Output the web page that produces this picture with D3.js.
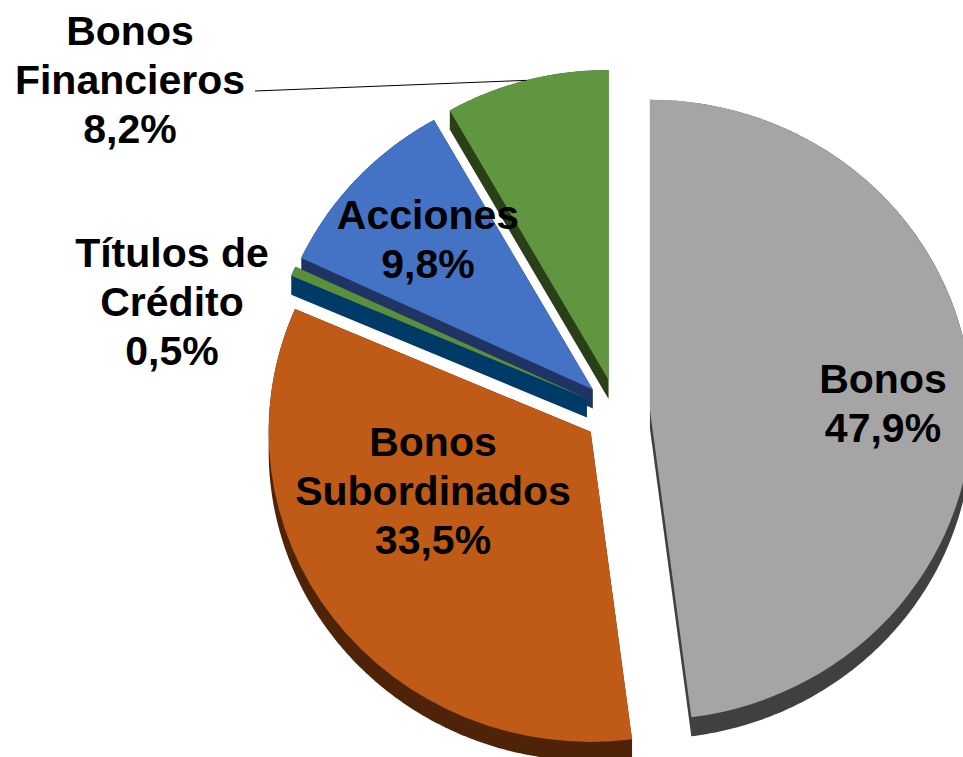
<!DOCTYPE html>
<html>
<head>
<meta charset="utf-8">
<script src="https://cdn.jsdelivr.net/npm/d3@7"></script>
<style>
  body { margin: 0; background: #fff; }
  text { font-family: "Liberation Sans", Arial, sans-serif; font-weight: bold; font-size: 41px; fill: #000; }
</style>
</head>
<body>
<div id="chart"></div>
<script>
// data
const categories = ['Bonos', 'Bonos Subordinados', 'Títulos de Crédito', 'Acciones', 'Bonos Financieros'];
const shares = [47.9, 33.5, 0.5, 9.8, 8.2];
const labelLines = [
    ['Bonos', '47,9%'],
    ['Bonos', 'Subordinados', '33,5%'],
    ['Títulos de', 'Crédito', '0,5%'],
    ['Acciones', '9,8%'],
    ['Bonos', 'Financieros', '8,2%']
];

// styles
const topColors = ['#a5a5a5', '#bf5b17', '#5b8f3b', '#4472c4', '#609640'];
const sideColors = ['#404040', '#4e2307', '#003a66', '#1f3462', '#283f18'];

// dimensions
const dim = { width: 963, height: 757 };
const pieGeo = { cx: 617, cy: 412, rx: 322, ry: 310, depth: 19, explode: 33 };

// label anchors (center x, first baseline y)
const labelPos = [
    { x: 883, y: 393 },
    { x: 433, y: 456 },
    { x: 172, y: 267 },
    { x: 428, y: 229 },
    { x: 130, y: 45 }
];
const lineGap = 49;

const svg = d3.select('#chart')
    .append('svg')
    .attr('width', dim.width)
    .attr('height', dim.height);

const pie = d3.pie()
    .sort(null)
    .value(d => d.value)
    .startAngle(0)
    .endAngle(2 * Math.PI);

const data = categories.map((c, i) => ({ name: c, value: shares[i], i: i }));
const slices = pie(data);

const arc = d3.arc()
    .innerRadius(0)
    .outerRadius(pieGeo.ry);

const sx = pieGeo.rx / pieGeo.ry;

slices.forEach(s => {
    s.mid = (s.startAngle + s.endAngle) / 2;
    s.ox = pieGeo.cx + pieGeo.explode * Math.sin(s.mid);
    s.oy = pieGeo.cy - pieGeo.explode * Math.cos(s.mid);
});

// outline points of a slice on the ellipse, relative to its vertex
function outline(s) {
    const pts = [[0, 0]];
    const n = Math.max(4, Math.ceil((s.endAngle - s.startAngle) / 0.01));
    for (let k = 0; k <= n; k++) {
        const a = s.startAngle + (s.endAngle - s.startAngle) * k / n;
        pts.push([pieGeo.rx * Math.sin(a), -pieGeo.ry * Math.cos(a)]);
    }
    return pts;
}

// back to front
const ordered = slices.slice().sort((a, b) => Math.cos(b.mid) - Math.cos(a.mid));

const pieG = svg.append('g');

ordered.forEach(s => {
    const g = pieG.append('g')
        .attr('transform', `translate(${s.ox},${s.oy})`);

    // extruded side: hull of the top and the shifted bottom
    const pts = outline(s);
    const hull = d3.polygonHull(pts.concat(pts.map(p => [p[0], p[1] + pieGeo.depth])));
    g.append('path')
        .attr('d', 'M' + hull.join('L') + 'Z')
        .attr('fill', sideColors[s.data.i]);

    // top face
    g.append('path')
        .attr('transform', `scale(${sx},1)`)
        .attr('d', arc(s))
        .attr('fill', topColors[s.data.i]);
});

// leader line for Bonos Financieros
const fin = slices[4];
const fx = fin.ox + pieGeo.rx * Math.sin(fin.mid);
const fy = fin.oy - pieGeo.ry * Math.cos(fin.mid);
svg.append('line')
    .attr('x1', 255)
    .attr('y1', 91)
    .attr('x2', fx)
    .attr('y2', fy)
    .attr('stroke', '#000')
    .attr('stroke-width', 1);

// labels
const labels = svg.append('g');
slices.forEach(s => {
    const p = labelPos[s.data.i];
    const t = labels.append('text')
        .attr('text-anchor', 'middle');
    labelLines[s.data.i].forEach((line, j) => {
        t.append('tspan')
            .attr('x', p.x)
            .attr('y', p.y + j * lineGap)
            .text(line);
    });
});
</script>
</body>
</html>
